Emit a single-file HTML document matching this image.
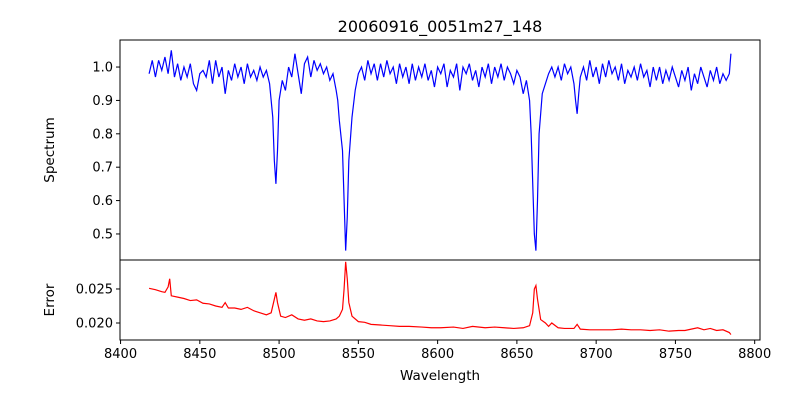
<!DOCTYPE html>
<html><head><meta charset="utf-8"><style>
body{margin:0;background:#fff;}
svg{display:block;font-family:"DejaVu Sans","Liberation Sans",sans-serif;}
</style></head><body>
<svg id="chart" width="800" height="400" viewBox="0 0 800 400" xmlns="http://www.w3.org/2000/svg">
<text x="440" y="32" font-size="16" text-anchor="middle">20060916_0051m27_148</text>
<g id="gtop"></g><g id="gbot"></g>
<text x="0" y="0" font-size="13.5" text-anchor="middle" transform="translate(54,150) rotate(-90)">Spectrum</text>
<text x="0" y="0" font-size="13.5" text-anchor="middle" transform="translate(54,300) rotate(-90)">Error</text>
<text x="440" y="380" font-size="13.5" text-anchor="middle">Wavelength</text>
</svg>
<script>
const specWave=[8418,8420,8422,8424,8426,8428,8430,8432,8434,8436,8438,8440,8442,8444,8446,8448,8450,8452,8454,8456,8458,8460,8462,8464,8466,8468,8470,8472,8474,8476,8478,8480,8482,8484,8486,8488,8490,8492,8494,8496,8497,8498,8499,8500,8502,8504,8506,8508,8510,8512,8514,8516,8518,8520,8522,8524,8526,8528,8530,8532,8534,8536,8537,8538,8540,8541,8542,8543,8544,8546,8548,8550,8552,8554,8556,8558,8560,8562,8564,8566,8568,8570,8572,8574,8576,8578,8580,8582,8584,8586,8588,8590,8592,8594,8596,8598,8600,8602,8604,8606,8608,8610,8612,8614,8616,8618,8620,8622,8624,8626,8628,8630,8632,8634,8636,8638,8640,8642,8644,8646,8648,8650,8652,8654,8656,8658,8659,8660,8661,8662,8663,8664,8666,8668,8670,8672,8674,8676,8678,8680,8682,8684,8686,8687,8688,8689,8690,8692,8694,8696,8698,8700,8702,8704,8706,8708,8710,8712,8714,8716,8718,8720,8722,8724,8726,8728,8730,8732,8734,8736,8738,8740,8742,8744,8746,8748,8750,8752,8754,8756,8758,8760,8762,8764,8766,8768,8770,8772,8774,8776,8778,8780,8782,8784,8785];
const specFlux=[0.98,1.02,0.97,1.02,0.99,1.03,0.98,1.05,0.97,1.01,0.96,1.00,0.97,1.01,0.95,0.93,0.98,0.99,0.97,1.02,0.95,1.02,0.97,1.00,0.92,0.99,0.96,1.01,0.97,1.00,0.95,1.01,0.97,0.99,0.96,1.00,0.97,0.99,0.95,0.85,0.72,0.65,0.75,0.90,0.96,0.93,1.00,0.97,1.04,0.98,0.92,1.01,1.03,0.97,1.02,0.99,1.01,0.98,1.00,0.96,0.98,0.93,0.90,0.84,0.75,0.60,0.45,0.55,0.72,0.85,0.93,0.98,1.00,0.96,1.02,0.98,1.01,0.96,1.01,0.97,1.02,0.98,1.00,0.95,1.01,0.97,1.00,0.95,1.01,0.96,1.00,0.97,1.01,0.96,0.99,0.94,1.00,0.98,1.01,0.94,0.99,0.97,1.01,0.93,1.00,0.98,1.01,0.96,0.99,0.94,1.00,0.97,1.01,0.95,1.00,0.97,1.01,0.96,1.00,0.98,0.95,0.99,0.97,0.92,0.96,0.90,0.80,0.65,0.50,0.45,0.60,0.80,0.92,0.95,0.98,1.00,0.97,1.00,0.96,1.01,0.98,1.00,0.95,0.90,0.86,0.92,0.97,1.00,0.96,1.02,0.97,1.00,0.95,1.01,0.97,1.02,0.98,1.00,0.96,1.01,0.95,0.99,0.97,1.00,0.96,1.01,0.97,0.99,0.94,1.00,0.96,1.00,0.95,0.99,0.96,1.00,0.97,0.94,0.99,0.96,1.00,0.93,0.98,0.95,1.00,0.97,0.94,0.99,0.96,1.00,0.95,0.98,0.96,0.98,1.04];
const errWave=[8418,8422,8426,8428,8430,8431,8432,8436,8440,8444,8448,8452,8456,8460,8464,8466,8468,8472,8476,8480,8484,8488,8492,8495,8497,8498,8499,8501,8504,8508,8512,8516,8520,8524,8528,8532,8536,8538,8540,8541,8542,8543,8544,8546,8550,8554,8558,8564,8570,8576,8582,8590,8596,8602,8610,8616,8622,8630,8636,8642,8648,8654,8658,8660,8661,8662,8663,8665,8668,8670,8672,8676,8680,8686,8688,8690,8696,8702,8710,8716,8722,8728,8734,8740,8746,8752,8756,8760,8764,8768,8772,8776,8780,8784,8785];
const errVal=[0.0251,0.0249,0.0246,0.0245,0.0253,0.0265,0.0240,0.0238,0.0236,0.0233,0.0234,0.0229,0.0228,0.0225,0.0223,0.0230,0.0222,0.0222,0.0220,0.0223,0.0218,0.0215,0.0212,0.0215,0.0235,0.0245,0.0230,0.0210,0.0208,0.0212,0.0206,0.0204,0.0206,0.0203,0.0202,0.0203,0.0206,0.0210,0.0220,0.0250,0.0290,0.0265,0.0230,0.0210,0.0202,0.0201,0.0198,0.0197,0.0196,0.0195,0.0195,0.0194,0.0193,0.0193,0.0194,0.0192,0.0195,0.0193,0.0194,0.0193,0.0192,0.0193,0.0196,0.0215,0.0250,0.0255,0.0235,0.0205,0.0200,0.0195,0.0200,0.0193,0.0192,0.0192,0.0198,0.0191,0.0190,0.0190,0.0190,0.0191,0.0190,0.0190,0.0189,0.0190,0.0188,0.0189,0.0189,0.0191,0.0193,0.0190,0.0192,0.0189,0.0190,0.0186,0.0183];
const xTicks=[8400,8450,8500,8550,8600,8650,8700,8750,8800];
const specTicks=[0.5,0.6,0.7,0.8,0.9,1.0];
const errTicks=[0.020,0.025];

const NS="http://www.w3.org/2000/svg";
const L=120,R=760,T1=40,B1=260,T2=260,B2=340;
const x=v=>L+(v-8399.65)/(8803.35-8399.65)*(R-L);
const y1=v=>T1+(1.081-v)/(1.081-0.422)*(B1-T1);
const y2=v=>T2+(0.02926-v)/(0.02926-0.0175)*(B2-T2);
function mk(tag,attrs,parent){const e=document.createElementNS(NS,tag);for(const k in attrs)e.setAttribute(k,attrs[k]);parent.appendChild(e);return e;}
const gTop=document.getElementById('gtop'),gBot=document.getElementById('gbot');
function pathD(ws,vs,fy){const n=Math.min(ws.length,vs.length);let d='';for(let i=0;i<n;i++){d+=(i?'L':'M')+x(ws[i]).toFixed(2)+','+fy(vs[i]).toFixed(2);}return d;}

const p1=mk('path',{d:pathD(specWave,specFlux,y1),fill:'none',stroke:'#0000ff','stroke-width':1.2},gTop);


const p2=mk('path',{d:pathD(errWave,errVal,y2),fill:'none',stroke:'#ff0000','stroke-width':1.2},gBot);



const f1=mk('rect',{x:L,y:T1,width:R-L,height:B1-T1,fill:'none',stroke:'#000','stroke-width':1},gTop);


const f2=mk('rect',{x:L,y:T2,width:R-L,height:B2-T2,fill:'none',stroke:'#000','stroke-width':1},gBot);



specTicks.forEach(t=>{const yy=y1(t);mk('line',{x1:L-4,x2:L,y1:yy,y2:yy,stroke:'#000'},gTop);
 const tx=mk('text',{x:L-7,y:yy+4.5,'font-size':13,'text-anchor':'end'},gTop);tx.textContent=t.toFixed(1);
 
 });
errTicks.forEach(t=>{const yy=y2(t);mk('line',{x1:L-4,x2:L,y1:yy,y2:yy,stroke:'#000'},gBot);
 const tx=mk('text',{x:L-7,y:yy+4.5,'font-size':13,'text-anchor':'end'},gBot);tx.textContent=t.toFixed(3);
 
 });
xTicks.forEach(t=>{const xx=x(t);mk('line',{x1:xx,x2:xx,y1:B2,y2:B2+4,stroke:'#000'},gBot);
 const tx=mk('text',{x:xx,y:B2+18,'font-size':13,'text-anchor':'middle'},gBot);tx.textContent=t;
 
 });
</script>
</body></html>
